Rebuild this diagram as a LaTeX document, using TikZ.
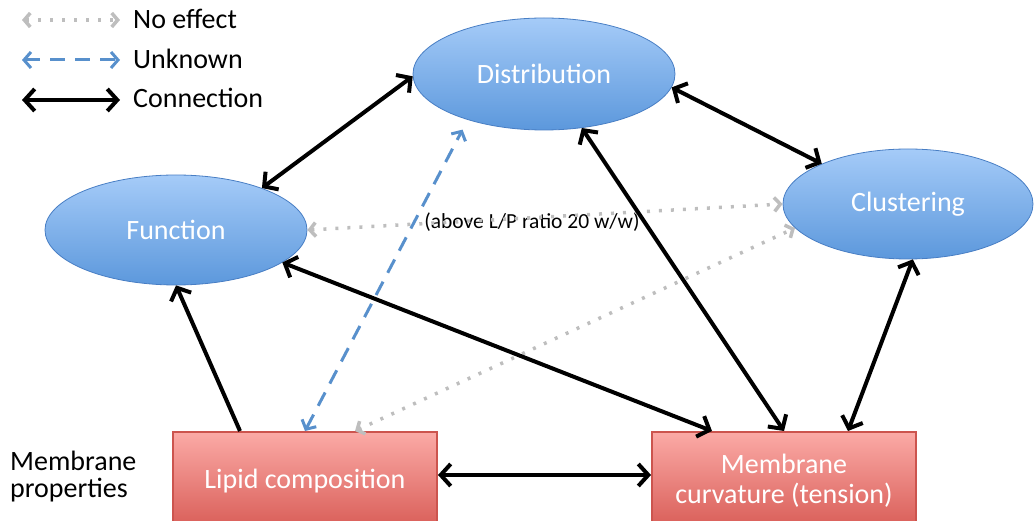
\documentclass[tikz,border=0pt]{standalone}
\usepackage{fontspec}
\setmainfont{Carlito}
\usetikzlibrary{arrows.meta,shapes.geometric}
\definecolor{elltop}{RGB}{165,203,248}
\definecolor{ellbot}{RGB}{92,152,220}
\definecolor{ellborder}{RGB}{72,126,196}
\definecolor{boxtop}{RGB}{251,170,166}
\definecolor{boxbot}{RGB}{216,92,86}
\definecolor{boxborder}{RGB}{204,84,78}
\definecolor{noeff}{RGB}{190,190,190}
\definecolor{unk}{RGB}{88,144,204}
\tikzset{
  cb/.tip={Straight Barb[length=10pt,width=22pt]},
  gb/.tip={Straight Barb[length=6pt,width=14pt]},
  ub/.tip={Straight Barb[length=7pt,width=16pt]},
}
\begin{document}
\begin{tikzpicture}[x=1pt,y=-1pt,
  bubble/.style={ellipse, draw=ellborder, line width=0.8pt, top color=elltop, bottom color=ellbot,
    text=white, font=\fontsize{28}{32}\selectfont, inner sep=0pt},
  propbox/.style={rectangle, draw=boxborder, line width=2pt, top color=boxtop, bottom color=boxbot,
    text=white, font=\fontsize{28}{30}\selectfont, align=center, minimum width=264pt, minimum height=98pt, inner sep=0pt},
  conn/.style={line width=4pt, black, cb-cb},
  conn1/.style={line width=4pt, black, -cb},
  noeffect/.style={line width=3.5pt, noeff, dash pattern=on 3pt off 9pt, gb-gb},
  unknown/.style={line width=3pt, unk, dash pattern=on 15pt off 10pt, ub-ub},
  legtext/.style={anchor=base west, font=\fontsize{28}{32}\selectfont, inner sep=0pt},
  plain/.style={font=\fontsize{28}{27}\selectfont, align=left, inner sep=0pt},
]
\useasboundingbox (0,0) rectangle (1034,521);

% nodes
\node[bubble, minimum width=262pt, minimum height=112pt] (dist) at (544,74) {Distribution};
\node[bubble, minimum width=262pt, minimum height=110pt] (func) at (176,230) {Function};
\node[bubble, minimum width=250pt, minimum height=110pt] (clus) at (908,204) {Clustering};
\node[propbox] (lipid) at (305,481) {Lipid composition};
\node[propbox] (curv) at (784,481) {Membrane\\curvature (tension)};

\node[plain, anchor=west] (mprop) at (10,477) {Membrane\\properties};
\node[font=\fontsize{21.5}{24}\selectfont, inner sep=0pt] (ratio) at (532,222) {(above L/P ratio 20 w/w)};

% legend
\coordinate (l1a) at (22,20); \coordinate (l1b) at (120,20);
\coordinate (l2a) at (22,60); \coordinate (l2b) at (120,60);
\coordinate (l3a) at (22,100); \coordinate (l3b) at (120,100);
\draw[noeffect] (l1a) -- (l1b);
\draw[unknown] (l2a) -- (l2b);
\draw[conn] (l3a) -- (l3b);
\node[legtext] (t1) at (133,29) {No effect};
\node[legtext] (t2) at (133,69) {Unknown};
\node[legtext] (t3) at (133,108) {Connection};

% no effect connectors
\draw[noeffect] (func.east) -- (clus.west);
\draw[noeffect] ([xshift=50pt]lipid.north) -- (clus.192);

% unknown connector
\draw[unknown, shorten >=11pt] (lipid.north) -- (dist.211);

% connections
\draw[conn] (func.26) -- (dist.181);
\draw[conn] (dist.-6) -- (clus.155);
\draw[conn1] ([xshift=-65pt]lipid.north) -- (func.south);
\draw[conn] (func.-17) -- ([xshift=-72pt]curv.north);
\draw[conn] (dist.-55) -- (curv.north);
\draw[conn] (clus.-85) -- ([xshift=64pt]curv.north);
\draw[conn] ([yshift=6pt]lipid.east) -- ([yshift=6pt]curv.west);
\end{tikzpicture}
\end{document}
